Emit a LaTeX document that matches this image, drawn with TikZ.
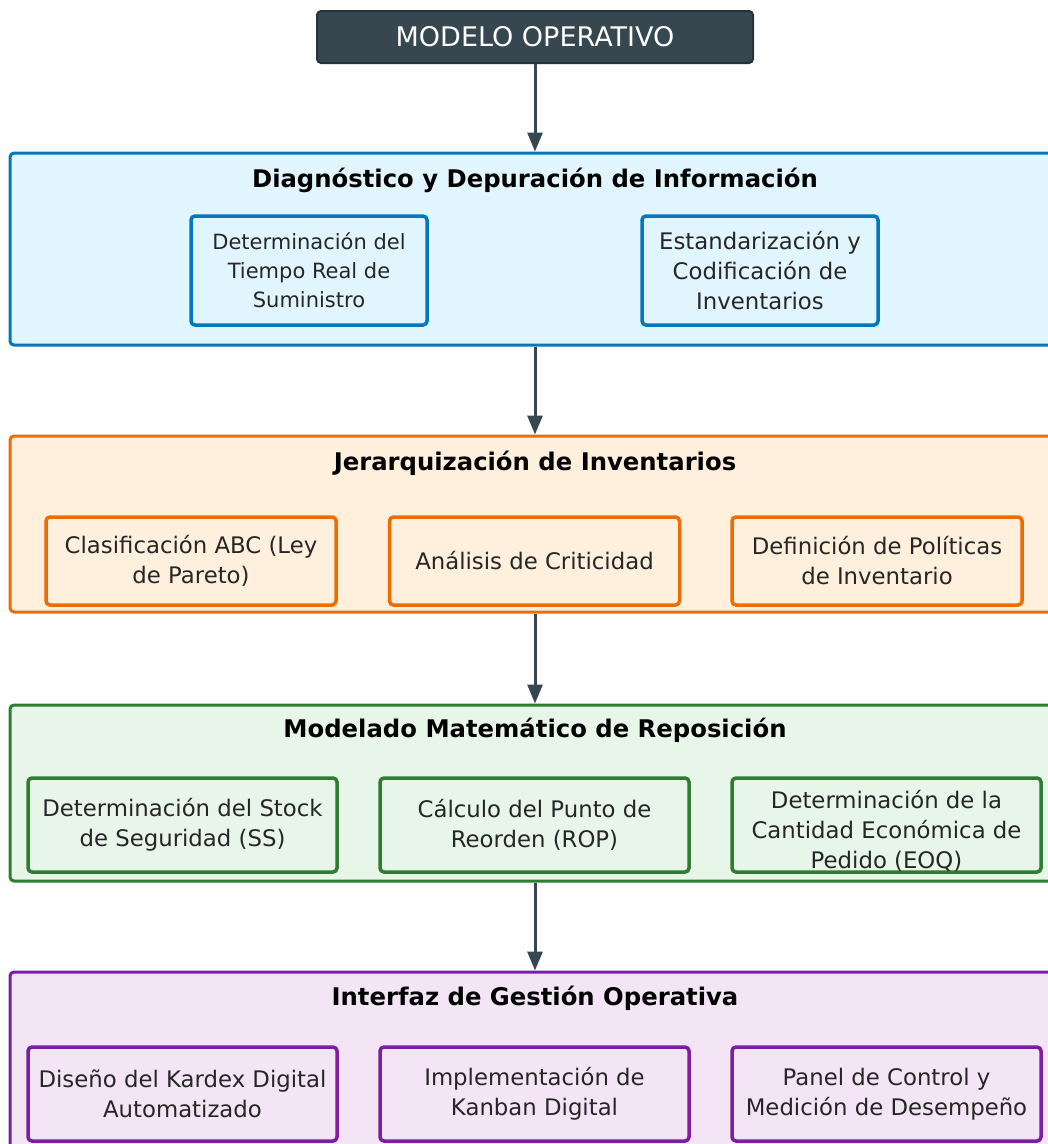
\documentclass[tikz,border=0pt]{standalone}
\usepackage{fontspec}
\setmainfont{DejaVu Sans}
\usetikzlibrary{arrows.meta}

\definecolor{slate}{HTML}{37474F}
\definecolor{slatedark}{HTML}{263238}
\definecolor{bluefill}{HTML}{E1F5FE}
\definecolor{blueline}{HTML}{0277BD}
\definecolor{orangefill}{HTML}{FFF0DD}
\definecolor{orangeline}{HTML}{EF6C00}
\definecolor{greenfill}{HTML}{E8F5E9}
\definecolor{greenline}{HTML}{2E7D32}
\definecolor{purplefill}{HTML}{F3E5F5}
\definecolor{purpleline}{HTML}{7B1FA2}

\tikzset{
  header/.style={draw=slatedark, line width=2pt, fill=slate, rounded corners=4pt,
    minimum width=436pt, minimum height=52pt, inner sep=0pt, text=white,
    font=\fontsize{27}{30}\selectfont},
  stage/.style={line width=3pt, rounded corners=4pt, minimum width=1050pt,
    inner sep=0pt},
  stagetitle/.style={font=\fontsize{24.3}{28}\selectfont\bfseries, text=black},
  task/.style={line width=3.5pt, rounded corners=4pt, inner sep=0pt, align=center,
    text=black!85, font=\fontsize{22.8}{30}\selectfont},
  flow/.style={draw=slate, line width=3pt,
    -{Triangle[length=19pt,width=15pt]}},
}

\begin{document}
\begin{tikzpicture}[x=1pt,y=-1pt]
\clip (0,0) rectangle (1048,1144);
\useasboundingbox (0,0) rectangle (1048,1144);

% header
\node[header] (top) at (535,37) {MODELO OPERATIVO};

% stage 1: diagnosis
\node[stage, draw=blueline, fill=bluefill, minimum height=192pt] (sec1) at (535,249) {};
\node[stagetitle] (t1) at (535,180) {Diagnóstico y Depuración de Información};
\node[task, draw=blueline, fill=bluefill, minimum width=236pt, minimum height=109pt,
  font=\fontsize{21}{29}\selectfont] (d1) at (309,270.5)
  {Determinación del\\Tiempo Real de\\Suministro};
\node[task, draw=blueline, fill=bluefill, minimum width=236pt, minimum height=109pt] (d2) at (760,270.5)
  {Estandarización y\\Codificación de\\Inventarios};

% stage 2: ranking
\node[stage, draw=orangeline, fill=orangefill, minimum height=176pt] (sec2) at (535,524) {};
\node[stagetitle] (t2) at (535,463) {Jerarquización de Inventarios};
\node[task, draw=orangeline, fill=orangefill, minimum width=290pt, minimum height=88pt] (j1) at (191,561)
  {Clasificación ABC (Ley\\de Pareto)};
\node[task, draw=orangeline, fill=orangefill, minimum width=290pt, minimum height=88pt] (j2) at (534.5,561)
  {Análisis de Criticidad};
\node[task, draw=orangeline, fill=orangefill, minimum width=290pt, minimum height=88pt] (j3) at (877,561)
  {Definición de Políticas\\de Inventario};

% stage 3: replenishment model
\node[stage, draw=greenline, fill=greenfill, minimum height=176pt] (sec3) at (535,793) {};
\node[stagetitle] (t3) at (535,730) {Modelado Matemático de Reposición};
\node[task, draw=greenline, fill=greenfill, minimum width=309pt, minimum height=94pt] (m1) at (182.5,825)
  {Determinación del Stock\\de Seguridad (SS)};
\node[task, draw=greenline, fill=greenfill, minimum width=309pt, minimum height=94pt] (m2) at (534.5,825)
  {Cálculo del Punto de\\Reorden (ROP)};
\node[task, draw=greenline, fill=greenfill, minimum width=309pt, minimum height=94pt] (m3) at (886.5,825) {};
\node[task, align=center] (m3text) at ([yshift=-6pt]m3.center)
  {Determinación de la\\Cantidad Económica de\\Pedido (EOQ)};

% stage 4: operational interface
\node[stage, draw=purpleline, fill=purplefill, minimum height=200pt] (sec4) at (535,1072) {};
\node[stagetitle] (t4) at (535,998) {Interfaz de Gestión Operativa};
\node[task, draw=purpleline, fill=purplefill, minimum width=309pt, minimum height=94pt] (g1) at (182.5,1094)
  {Diseño del Kardex Digital\\Automatizado};
\node[task, draw=purpleline, fill=purplefill, minimum width=309pt, minimum height=94pt] (g2) at (534.5,1094)
  {Implementación de\\Kanban Digital};
\node[task, draw=purpleline, fill=purplefill, minimum width=309pt, minimum height=94pt] (g3) at (886.5,1094)
  {Panel de Control y\\Medición de Desempeño};

% connectors
\draw[flow] (top.south) -- (sec1.north);
\draw[flow] (sec1.south) -- (sec2.north);
\draw[flow] (sec2.south) -- (sec3.north);
\draw[flow] (sec3.south) -- (sec4.north);
\end{tikzpicture}
\end{document}
